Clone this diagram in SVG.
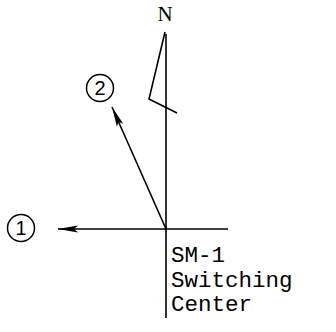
<svg xmlns="http://www.w3.org/2000/svg" width="336" height="332" viewBox="0 0 336 332">
<style>
.ln{stroke:#000;fill:none;stroke-width:1.6}
.circ{stroke:#000;fill:#fff;stroke-width:1.5}
.num{font-family:"Liberation Sans",Arial,sans-serif;font-size:20px;fill:#000;text-anchor:middle}
.lbl{font-family:"Liberation Mono","Courier New",monospace;font-size:22.5px;fill:#000}
.n{font-family:"Liberation Serif","Times New Roman",serif;font-size:21px;fill:#000;text-anchor:middle}
</style>
<defs>
<marker id="ah" viewBox="0 0 20 8" refX="20" refY="4" markerWidth="20" markerHeight="8" markerUnits="userSpaceOnUse" orient="auto">
<path d="M0,0.5 L20,4 L0,7.5 L4,4 Z" fill="#000"/>
</marker>
</defs>
<g id="connectors">
<line class="ln" x1="166" y1="34" x2="166" y2="318"/>
<polyline class="ln" points="165,32 149,99 177,113"/>
<line class="ln" x1="228" y1="229" x2="58" y2="229" marker-end="url(#ah)"/>
<line class="ln" x1="166" y1="229" x2="112" y2="107" stroke-width="2" marker-end="url(#ah)"/>
</g>
<g id="north"><text class="n" x="165" y="21">N</text></g>
<g id="node1"><circle class="circ" cx="21" cy="228" r="13.5"/><text class="num" x="21" y="235">1</text></g>
<g id="node2"><circle class="circ" cx="100" cy="88" r="13.5"/><text class="num" x="100" y="95">2</text></g>
<g id="center"><text class="lbl" x="171" y="262">SM-1</text><text class="lbl" x="171" y="287">Switching</text><text class="lbl" x="171" y="311">Center</text></g>
</svg>
